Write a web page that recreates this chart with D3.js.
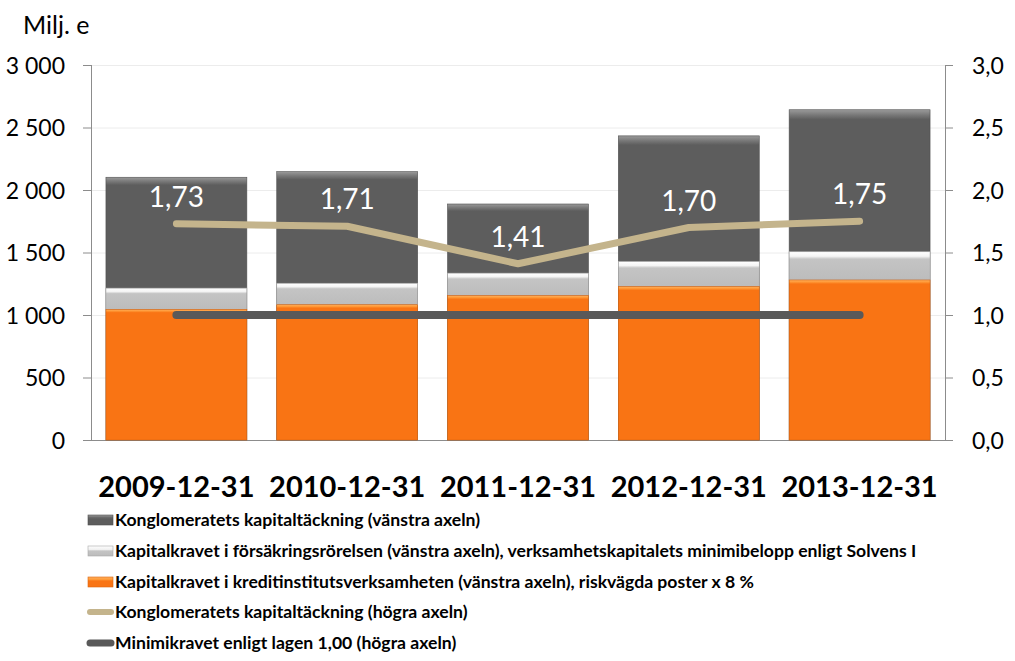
<!DOCTYPE html>
<html><head><meta charset="utf-8">
<script src="https://cdn.jsdelivr.net/npm/d3@7"></script>
<style>body{margin:0;background:#fff;} svg{display:block;font-family:Lato,"Open Sans",sans-serif;}</style>
</head><body><svg id="c" width="1015" height="661"></svg>
<script>
const categories = ["2009-12-31","2010-12-31","2011-12-31","2012-12-31","2013-12-31"];
const creditReq = [1045, 1082, 1155, 1228, 1280];        // orange (left axis)
const insuranceReq = [170, 172, 180, 200, 226];          // light grey, stacked on orange
const conglomerateCapital = [2102, 2147, 1888, 2433, 2642]; // dark bar (left axis)
const ratio = [1.73, 1.71, 1.41, 1.70, 1.75];            // right axis
const minimum = [1.0, 1.0, 1.0, 1.0, 1.0];
const leftTicks = [0,500,1000,1500,2000,2500,3000];
const rightTicks = [0,0.5,1,1.5,2,2.5,3];
const legendLabels = [
 "Konglomeratets kapitaltäckning (vänstra axeln)",
 "Kapitalkravet i försäkringsrörelsen (vänstra axeln), verksamhetskapitalets minimibelopp enligt Solvens I",
 "Kapitalkravet i kreditinstitutsverksamheten (vänstra axeln), riskvägda poster x 8 %",
 "Konglomeratets kapitaltäckning (högra axeln)",
 "Minimikravet enligt lagen 1,00 (högra axeln)"
];

const svg = d3.select("#c");
const L = 91, R = 945, T = 65, B = 440;
const x = d3.scaleBand().domain(categories).range([L, R]).paddingInner(0.175).paddingOuter(0.0875);
const yL = d3.scaleLinear().domain([0,3000]).range([B,T]);
const yR = d3.scaleLinear().domain([0,3]).range([B,T]);
const sv = d => d3.format(",")(d).replace(/,/g," ");
const comma = (d,p) => d.toFixed(p).replace(".",",");

const defs = svg.append("defs");
function grad(id, stops){
  const g = defs.append("linearGradient").attr("id",id).attr("x1",0).attr("x2",0).attr("y1",0).attr("y2",1);
  stops.forEach(s=>g.append("stop").attr("offset",s[0]).attr("stop-color",s[1]));
}
grad("gDark",[[0,"#9a9a9a"],[0.015,"#7a7a7a"],[0.03,"#5d5d5d"],[1,"#5d5d5d"]]);
grad("gLight",[[0,"#ffffff"],[0.16,"#f4f4f4"],[0.26,"#c4c4c4"],[1,"#bcbcbc"]]);
grad("gOrange",[[0,"#ffb060"],[0.012,"#ff9a38"],[0.025,"#f97414"],[1,"#f97414"]]);
grad("gLegL",[[0,"#ffffff"],[0.35,"#f0f0f0"],[0.5,"#c4c4c4"],[1,"#bcbcbc"]]);
grad("gLegD",[[0,"#9a9a9a"],[0.25,"#6a6a6a"],[0.4,"#5d5d5d"],[1,"#5d5d5d"]]);
grad("gLegO",[[0,"#ffb060"],[0.25,"#ff9a38"],[0.4,"#f97414"],[1,"#f97414"]]);

// gridlines
svg.append("g").selectAll("line").data(leftTicks.slice(1)).join("line")
  .attr("x1",L).attr("x2",R).attr("y1",d=>yL(d)+0.5).attr("y2",d=>yL(d)+0.5)
  .attr("stroke","#ececec").attr("stroke-width",1);

// axes
const axL = svg.append("g").attr("transform",`translate(${L},0)`)
  .call(d3.axisLeft(yL).tickValues(leftTicks).tickSize(8).tickFormat(sv));
const axR = svg.append("g").attr("transform",`translate(${R},0)`)
  .call(d3.axisRight(yR).tickValues(rightTicks).tickSize(8).tickFormat(d=>comma(d,1)));
[axL,axR].forEach(a=>{
  a.select(".domain").attr("stroke","#8c8c8c").attr("d", `M0.5,${T}V${B}`);
  a.selectAll(".tick line").attr("stroke","#8c8c8c");
  a.selectAll("text").attr("font-size",23).attr("fill","#000").attr("font-family","Lato, sans-serif");
});
axL.selectAll("text").attr("x",-26).attr("dy","0.36em");
axR.selectAll("text").attr("x",27).attr("dy","0.36em");
svg.append("line").attr("x1",L-8).attr("x2",R).attr("y1",B+0.5).attr("y2",B+0.5).attr("stroke","#8c8c8c");

svg.append("text").attr("x",23).attr("y",34).attr("font-size",25).text("Milj. e");

// bars
const bw = x.bandwidth();
const g = svg.append("g");
g.selectAll(".dark").data(categories).join("rect")
  .attr("x",d=>x(d)).attr("width",bw)
  .attr("y",(d,i)=>yL(conglomerateCapital[i])).attr("height",(d,i)=>B-yL(conglomerateCapital[i]))
  .attr("fill","url(#gDark)").attr("stroke","#4f4f4f").attr("stroke-width",0.6);
g.selectAll(".light").data(categories).join("rect")
  .attr("x",d=>x(d)).attr("width",bw)
  .attr("y",(d,i)=>yL(creditReq[i]+insuranceReq[i])).attr("height",(d,i)=>yL(creditReq[i])-yL(creditReq[i]+insuranceReq[i]))
  .attr("fill","url(#gLight)").attr("stroke","#a8a8a8").attr("stroke-width",0.6);
g.selectAll(".orange").data(categories).join("rect")
  .attr("x",d=>x(d)).attr("width",bw)
  .attr("y",(d,i)=>yL(creditReq[i])).attr("height",(d,i)=>B-yL(creditReq[i]))
  .attr("fill","url(#gOrange)").attr("stroke","#d9650f").attr("stroke-width",0.6);

// lines
const cx = d=>x(d)+bw/2;
const line = d3.line().x((d,i)=>cx(categories[i])).y(d=>yR(d));
svg.append("path").attr("d",line(minimum)).attr("fill","none").attr("stroke","#595959")
  .attr("stroke-width",8).attr("stroke-linecap","round");
svg.append("path").attr("d",line(ratio)).attr("fill","none").attr("stroke","#c4b48c")
  .attr("stroke-width",7).attr("stroke-linecap","round").attr("stroke-linejoin","round");

// labels
svg.append("g").selectAll("text").data(ratio).join("text")
  .attr("x",(d,i)=>cx(categories[i])).attr("y",d=>yR(d)-17)
  .attr("text-anchor","middle").attr("fill","#fff").attr("font-size",28)
  .text(d=>comma(d,2));

// x labels
svg.append("g").selectAll("text").data(categories).join("text")
  .attr("x",d=>cx(d)).attr("y",497).attr("text-anchor","middle")
  .attr("font-size",29).attr("font-weight","bold").text(d=>d);

// legend
const lg = svg.append("g");
const ly = [520,551,582,612,643];
legendLabels.forEach((t,i)=>{
  const y = ly[i];
  if(i<3){
    const fills = ["url(#gLegD)","url(#gLegL)","url(#gLegO)"];
    const strokes = ["#4f4f4f","#a8a8a8","#d9650f"];
    lg.append("rect").attr("x",88).attr("y",y-5).attr("width",25).attr("height",10)
      .attr("fill",fills[i]).attr("stroke",strokes[i]).attr("stroke-width",0.6);
  } else {
    lg.append("line").attr("x1",90).attr("x2",111).attr("y1",y).attr("y2",y)
      .attr("stroke", i===3?"#c4b48c":"#595959").attr("stroke-width",i===3?6:7).attr("stroke-linecap","round");
  }
  lg.append("text").attr("x",115).attr("y",y).attr("dy","0.35em").attr("font-size",17.6)
    .attr("font-weight","bold").text(t);
});
</script></body></html>
